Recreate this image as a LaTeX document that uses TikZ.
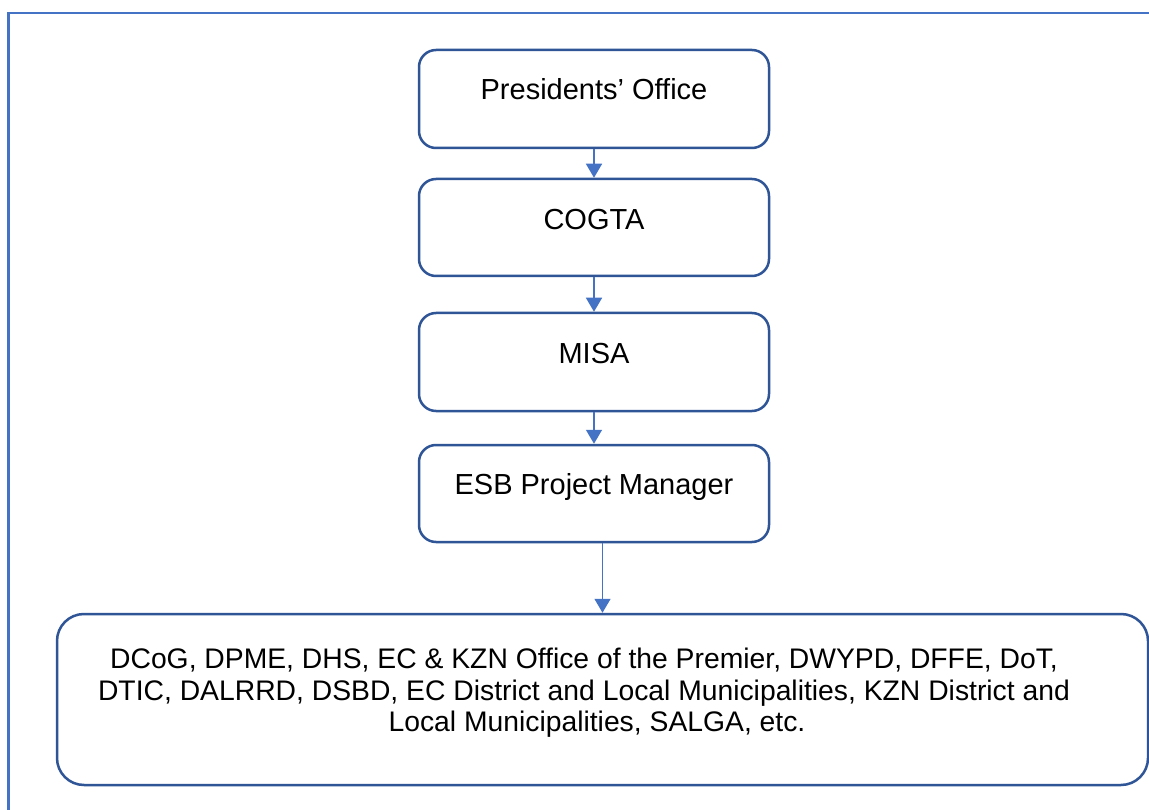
\documentclass[tikz,border=0pt]{standalone}
\usepackage{fontspec}
\setmainfont{Liberation Sans}
\usetikzlibrary{arrows.meta}
\definecolor{boxblue}{HTML}{2F5597}
\definecolor{lineblue}{HTML}{4472C4}
\begin{document}
\begin{tikzpicture}[x=1pt,y=-1pt,
  box/.style={draw=boxblue, line width=2.5pt, rounded corners=17pt, minimum width=350pt, inner sep=0pt},
  bigbox/.style={draw=boxblue, line width=2.5pt, rounded corners=27pt, minimum width=1091pt, minimum height=171pt, inner sep=0pt},
  txt/.style={font=\fontsize{29}{31.5}\selectfont, inner sep=0pt},
  bigtxt/.style={font=\fontsize{28.3}{31.5}\selectfont, inner sep=0pt, align=center},
  link/.style={draw=lineblue, line width=1.5pt, -{Triangle[width=16pt,length=14pt]}}]
\useasboundingbox (0,0) rectangle (1149,810);
\fill[white] (0,0) rectangle (1149,810);
\draw[lineblue, line width=2.2pt] (8.5,812) -- (8.5,13) -- (1151,13);

\node[box, minimum height=98pt] (b1) at (594,99) {};
\node[txt, anchor=base] (t1) at (594,100) {Presidents’ Office};

\node[box, minimum height=97pt] (b2) at (594,227.5) {};
\node[txt, anchor=base] (t2) at (594,230) {COGTA};

\node[box, minimum height=98pt] (b3) at (594,362) {};
\node[txt, anchor=base] (t3) at (594,363) {MISA};

\node[box, minimum height=97pt] (b4) at (594,493.5) {};
\node[txt, anchor=base] (t4) at (594,494) {ESB Project Manager};

\node[bigbox] (b5) at (602.5,699.5) {};
\node[bigtxt, anchor=north] (t5) at (584,648) {DCoG, DPME, DHS, EC \& KZN Office of the Premier, DWYPD, DFFE, DoT,\\DTIC, DALRRD, DSBD, EC District and Local Municipalities, KZN District and\\\hspace*{26pt}Local Municipalities, SALGA, etc.};

\draw[link] (b1) -- (b2);
\draw[link] (b2) -- (b3);
\draw[link] (b3) -- (b4);
\draw[link] (b4.south -| b5.north) -- (b5.north);
\end{tikzpicture}
\end{document}
